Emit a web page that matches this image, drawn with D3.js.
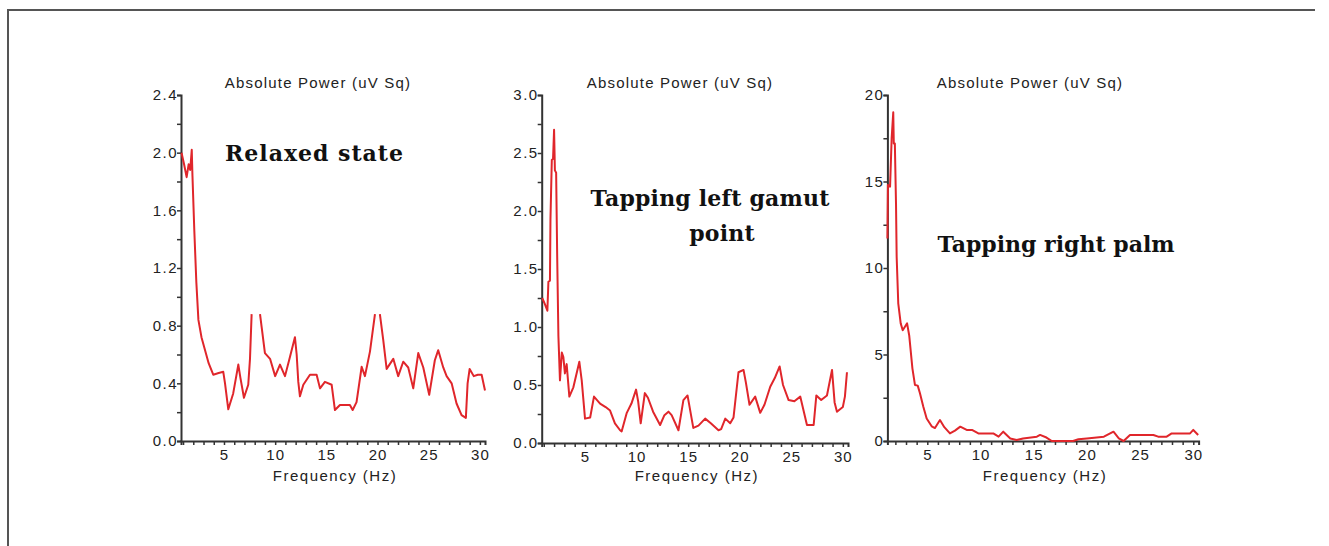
<!DOCTYPE html>
<html>
<head>
<meta charset="utf-8">
<script src="https://cdn.jsdelivr.net/npm/d3@7"></script>
<style>
  html, body { margin: 0; padding: 0; background: #fff; }
  svg { display: block; }
  .tick text { font-family: "Liberation Sans", Arial, sans-serif; }
</style>
</head>
<body>
<svg id="chart" width="1329" height="546"></svg>
<script>
// ---------- DATA ----------
const freq1  = [0.85,1.1,1.35,1.55,1.7,1.85,1.92,2.1,2.3,2.5,2.8,3.15,3.5,3.95,4.4,4.93,5.1,5.42,5.9,6.4,6.6,6.95,7.37,7.54,7.7,8.1,8.52,8.68,9.0,9.5,10.0,10.47,10.96,11.45,11.93,12.1,12.26,12.42,12.75,13.4,14.05,14.38,14.86,15.52,15.84,16.33,17.3,17.57,17.95,18.45,18.77,19.26,19.75,20.0,20.23,20.56,20.89,21.54,22.02,22.51,23.0,23.49,23.98,24.47,25.05,25.6,25.93,26.42,26.75,27.24,27.72,28.21,28.63,28.8,29.0,29.4,29.8,30.17,30.5];
const power1 = [2.00,1.92,1.83,1.92,1.88,2.02,1.84,1.46,1.10,0.84,0.72,0.63,0.54,0.46,0.47,0.48,0.40,0.22,0.33,0.53,0.44,0.30,0.39,0.57,0.88,null,0.88,0.79,0.61,0.57,0.45,0.53,0.45,0.585,0.72,0.60,0.41,0.31,0.39,0.46,0.46,0.365,0.41,0.39,0.215,0.25,0.25,0.215,0.27,0.515,0.45,0.62,0.88,null,0.88,0.70,0.50,0.57,0.45,0.55,0.51,0.365,0.61,0.51,0.32,0.56,0.63,0.51,0.45,0.40,0.26,0.18,0.16,0.40,0.50,0.45,0.46,0.46,0.35];

const freq2  = [0.85,1.1,1.35,1.45,1.6,1.65,1.78,1.9,2.0,2.08,2.2,2.3,2.42,2.57,2.75,2.9,3.05,3.22,3.48,3.87,4.45,4.68,5.0,5.5,5.87,6.46,7.0,7.43,7.9,8.4,8.55,9.05,9.5,9.95,10.15,10.4,10.8,11.1,11.6,12.28,12.7,13.09,13.4,14.06,14.54,14.94,15.5,16.0,16.65,17.2,17.94,18.2,18.6,19.08,19.4,19.88,20.37,20.6,20.95,21.5,21.99,22.4,22.96,23.4,23.87,24.2,24.74,25.3,25.87,26.52,27.17,27.43,27.9,28.46,28.95,29.2,29.43,30.0,30.2,30.4];
const power2 = [1.25,1.20,1.14,1.39,1.40,1.93,2.44,2.45,2.70,2.35,2.33,1.62,0.92,0.54,0.78,0.74,0.60,0.68,0.40,0.48,0.70,0.54,0.21,0.22,0.40,0.34,0.31,0.28,0.17,0.11,0.10,0.26,0.34,0.46,0.36,0.17,0.43,0.39,0.27,0.155,0.24,0.27,0.24,0.11,0.37,0.41,0.13,0.15,0.21,0.17,0.11,0.12,0.21,0.17,0.22,0.61,0.63,0.52,0.33,0.40,0.26,0.33,0.485,0.56,0.66,0.50,0.37,0.36,0.40,0.155,0.155,0.41,0.37,0.41,0.63,0.35,0.27,0.31,0.40,0.61];

const freq3  = [1.25,1.3,1.5,1.65,1.8,1.85,1.95,2.06,2.12,2.27,2.5,2.69,2.9,3.1,3.3,3.6,3.84,4.1,4.31,4.62,4.94,5.41,5.72,6.19,6.6,7.13,7.6,8.1,8.7,9.2,9.8,11.2,11.7,12.14,12.8,13.4,14.0,15.3,15.6,16.2,16.7,18.7,19.2,20.0,21.6,22.5,23.0,23.45,24.05,26.25,26.7,27.5,27.97,29.7,30.0,30.46];
const power3 = [11.7,14.8,14.7,17.5,19.0,17.2,17.2,13.7,10.65,7.96,6.8,6.4,6.6,6.8,6.1,4.2,3.24,3.2,2.76,2.0,1.3,0.85,0.75,1.21,0.8,0.44,0.6,0.83,0.64,0.64,0.44,0.44,0.25,0.54,0.15,0.06,0.15,0.25,0.35,0.2,0.0,0.0,0.1,0.15,0.25,0.54,0.15,0.0,0.35,0.35,0.25,0.25,0.44,0.44,0.64,0.35];

const yMajor1 = [0, 0.4, 0.8, 1.2, 1.6, 2.0, 2.4];
const yMajor2 = [0, 0.5, 1.0, 1.5, 2.0, 2.5, 3.0];
const yMajor3 = [0, 5, 10, 15, 20];
const xMajor  = [5, 10, 15, 20, 25, 30];
const yTitle  = "Absolute Power (uV Sq)";
const xTitle  = "Frequency (Hz)";
const notes1  = ["Relaxed state"];
const notes2  = ["Tapping left gamut", "point"];
const notes3  = ["Tapping right palm"];

// ---------- LAYOUT ----------
const panels = [
  { f: freq1, p: power1, xDom: [0.8, 30.5], xR: [181, 485], yMax: 2.4, yR: [441, 95], yMajor: yMajor1, yStep: 0.2, fmt: d3.format(".1f"),
    titleX: 318, notes: notes1, noteX: [225], noteAnchor: "start", noteY: [161], noteSpacing: 1 },
  { f: freq2, p: power2, xDom: [0.8, 30.5], xR: [541.7, 848], yMax: 3.0, yR: [443, 95], yMajor: yMajor2, yStep: 0.25, fmt: d3.format(".1f"),
    titleX: 680, notes: notes2, noteX: [710, 722], noteAnchor: "middle", noteY: [206, 241], noteSpacing: 0.2 },
  { f: freq3, p: power3, xDom: [1.25, 30.5], xR: [887.4, 1198.6], yMax: 20, yR: [441, 95], yMajor: yMajor3, yStep: 2.5, fmt: d3.format("d"),
    titleX: 1030, notes: notes3, noteX: [1056], noteAnchor: "middle", noteY: [252], noteSpacing: 0 }
];

const svg = d3.select("#chart");

// frame lines
svg.append("line").attr("x1", 7).attr("x2", 1315).attr("y1", 10).attr("y2", 10)
  .attr("stroke", "#555").attr("stroke-width", 2);
svg.append("line").attr("x1", 8).attr("x2", 8).attr("y1", 9).attr("y2", 546)
  .attr("stroke", "#555").attr("stroke-width", 2);

panels.forEach(P => {
  const x = d3.scaleLinear().domain(P.xDom).range(P.xR);
  const y = d3.scaleLinear().domain([0, P.yMax]).range(P.yR);
  const g = svg.append("g");

  // y axis
  const yTicks = d3.range(0, P.yMax + 1e-9, P.yStep);
  const isMajor = v => P.yMajor.some(m => Math.abs(m - v) < 1e-6);
  const ya = g.append("g").attr("transform", `translate(${P.xR[0]},0)`)
    .call(d3.axisLeft(y).tickValues(yTicks).tickSizeOuter(0).tickSize(4)
      .tickFormat(v => isMajor(v) ? P.fmt(v) : ""));
  ya.select(".domain").attr("stroke", "#333").attr("stroke-width", 2);
  ya.selectAll(".tick line").attr("stroke", "#333").attr("stroke-width", 1.5);
  ya.selectAll(".tick text").attr("font-size", 15).attr("fill", "#222")
    .attr("letter-spacing", 1.5).attr("x", -3);

  // x axis
  const xTicks = d3.range(Math.ceil(P.xDom[0]), 31, 1);
  const xa = g.append("g").attr("transform", `translate(0,${P.yR[0]})`)
    .call(d3.axisBottom(x).tickValues(xTicks).tickSizeOuter(0).tickSize(4)
      .tickFormat(v => xMajor.includes(v) ? String(v) : ""));
  xa.select(".domain").attr("stroke", "#333").attr("stroke-width", 2);
  xa.selectAll(".tick line").attr("stroke", "#333").attr("stroke-width", 1.5);
  xa.selectAll(".tick text").attr("font-size", 15).attr("fill", "#222")
    .attr("letter-spacing", 1).attr("y", 8);

  // titles
  g.append("text").attr("x", P.titleX).attr("y", 88).attr("text-anchor", "middle")
    .attr("font-family", "Liberation Sans, Arial, sans-serif").attr("font-size", 15)
    .attr("letter-spacing", 1.2).attr("fill", "#222").text(yTitle);
  g.append("text").attr("x", (P.xR[0] + P.xR[1]) / 2 + 2).attr("y", 481).attr("text-anchor", "middle")
    .attr("font-family", "Liberation Sans, Arial, sans-serif").attr("font-size", 15)
    .attr("letter-spacing", 1.5).attr("fill", "#222").text(xTitle);

  // data line
  const pts = P.f.map((fv, i) => [fv, P.p[i]]);
  const line = d3.line().defined(d => d[1] !== null).x(d => x(d[0])).y(d => y(d[1]));
  g.append("path").datum(pts).attr("d", line)
    .attr("fill", "none").attr("stroke", "#e0262b").attr("stroke-width", 2)
    .attr("stroke-linejoin", "round");

  // annotations
  P.notes.forEach((t, i) => {
    g.append("text").attr("x", P.noteX[i]).attr("y", P.noteY[i])
      .attr("text-anchor", P.noteAnchor)
      .attr("font-family", "DejaVu Serif, serif").attr("font-weight", "bold")
      .attr("letter-spacing", P.noteSpacing)
      .attr("font-size", 22).attr("fill", "#111").text(t);
  });
});
</script>
</body>
</html>
